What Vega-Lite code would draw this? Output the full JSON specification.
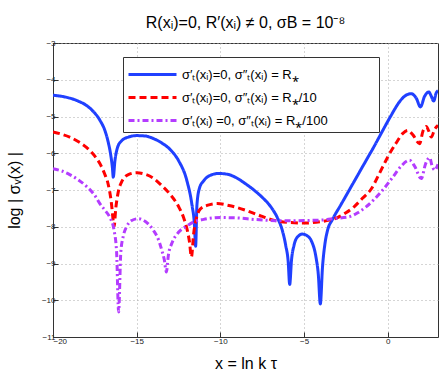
{
  "$schema": "https://vega.github.io/schema/vega-lite/v6.json",
  "width": 385,
  "height": 294,
  "autosize": "none",
  "padding": {"left": 53, "top": 43, "right": 5, "bottom": 34},
  "background": "white",
  "config": {
    "font": "Liberation Sans",
    "view": {"stroke": "#333", "strokeWidth": 1},
    "axis": {"labelFont": "Liberation Sans", "titleFont": "Liberation Sans"}
  },
  "title": {
    "text": "R(xᵢ)=0,  R′(xᵢ) ≠ 0, σB = 10⁻⁸",
    "font": "Liberation Sans",
    "fontSize": 16,
    "fontWeight": "normal",
    "color": "#000",
    "anchor": "middle",
    "offset": 8
  },
  "data": {
    "values": [
      {"s": "b", "x": -20, "y": -4.42}, {"s": "b", "x": -19.5, "y": -4.45}, {"s": "b", "x": -19, "y": -4.5}, {"s": "b", "x": -18.5, "y": -4.58}, {"s": "b", "x": -18, "y": -4.7}, {"s": "b", "x": -17.6, "y": -4.86}, {"s": "b", "x": -17.2, "y": -5.1}, {"s": "b", "x": -16.9, "y": -5.38}, {"s": "b", "x": -16.7, "y": -5.7}, {"s": "b", "x": -16.55, "y": -6.05}, {"s": "b", "x": -16.45, "y": -6.4}, {"s": "b", "x": -16.4, "y": -6.65}, {"s": "b", "x": -16.3, "y": -6.2}, {"s": "b", "x": -16.15, "y": -5.85}, {"s": "b", "x": -15.9, "y": -5.66}, {"s": "b", "x": -15.5, "y": -5.56}, {"s": "b", "x": -15, "y": -5.52}, {"s": "b", "x": -14.5, "y": -5.53}, {"s": "b", "x": -14, "y": -5.6}, {"s": "b", "x": -13.5, "y": -5.72}, {"s": "b", "x": -13, "y": -5.9}, {"s": "b", "x": -12.5, "y": -6.2}, {"s": "b", "x": -12, "y": -6.75}, {"s": "b", "x": -11.7, "y": -7.4}, {"s": "b", "x": -11.55, "y": -7.95}, {"s": "b", "x": -11.48, "y": -8.53}, {"s": "b", "x": -11.4, "y": -7.4}, {"s": "b", "x": -11.25, "y": -6.95}, {"s": "b", "x": -11, "y": -6.75}, {"s": "b", "x": -10.6, "y": -6.6}, {"s": "b", "x": -10.1, "y": -6.55}, {"s": "b", "x": -9.5, "y": -6.58}, {"s": "b", "x": -9, "y": -6.68}, {"s": "b", "x": -8.5, "y": -6.83}, {"s": "b", "x": -8, "y": -7.0}, {"s": "b", "x": -7.5, "y": -7.2}, {"s": "b", "x": -7, "y": -7.45}, {"s": "b", "x": -6.6, "y": -7.75}, {"s": "b", "x": -6.3, "y": -8.1}, {"s": "b", "x": -6.1, "y": -8.5}, {"s": "b", "x": -5.95, "y": -8.95}, {"s": "b", "x": -5.86, "y": -9.57}, {"s": "b", "x": -5.75, "y": -8.9}, {"s": "b", "x": -5.6, "y": -8.5}, {"s": "b", "x": -5.4, "y": -8.28}, {"s": "b", "x": -5.1, "y": -8.2}, {"s": "b", "x": -4.8, "y": -8.25}, {"s": "b", "x": -4.55, "y": -8.4}, {"s": "b", "x": -4.3, "y": -8.8}, {"s": "b", "x": -4.15, "y": -9.3}, {"s": "b", "x": -4.03, "y": -10.1}, {"s": "b", "x": -3.9, "y": -9.1}, {"s": "b", "x": -3.75, "y": -8.45}, {"s": "b", "x": -3.6, "y": -8.1}, {"s": "b", "x": -3.3, "y": -7.8}, {"s": "b", "x": -2.8, "y": -7.4}, {"s": "b", "x": -2.3, "y": -7.0}, {"s": "b", "x": -1.8, "y": -6.6}, {"s": "b", "x": -1.3, "y": -6.2}, {"s": "b", "x": -0.8, "y": -5.8}, {"s": "b", "x": -0.3, "y": -5.38}, {"s": "b", "x": 0.2, "y": -4.97}, {"s": "b", "x": 0.7, "y": -4.6}, {"s": "b", "x": 1.0, "y": -4.45}, {"s": "b", "x": 1.4, "y": -4.38}, {"s": "b", "x": 1.7, "y": -4.5}, {"s": "b", "x": 1.95, "y": -4.74}, {"s": "b", "x": 2.2, "y": -4.45}, {"s": "b", "x": 2.45, "y": -4.33}, {"s": "b", "x": 2.6, "y": -4.45}, {"s": "b", "x": 2.74, "y": -4.58}, {"s": "b", "x": 2.9, "y": -4.35}, {"s": "b", "x": 3.0, "y": -4.3},

      {"s": "r", "x": -20, "y": -5.42}, {"s": "r", "x": -19.5, "y": -5.48}, {"s": "r", "x": -19, "y": -5.56}, {"s": "r", "x": -18.5, "y": -5.68}, {"s": "r", "x": -18, "y": -5.84}, {"s": "r", "x": -17.5, "y": -6.08}, {"s": "r", "x": -17.2, "y": -6.28}, {"s": "r", "x": -16.9, "y": -6.58}, {"s": "r", "x": -16.7, "y": -6.85}, {"s": "r", "x": -16.5, "y": -7.4}, {"s": "r", "x": -16.4, "y": -7.85}, {"s": "r", "x": -16.35, "y": -8.0}, {"s": "r", "x": -16.25, "y": -7.5}, {"s": "r", "x": -16.1, "y": -7.05}, {"s": "r", "x": -15.9, "y": -6.78}, {"s": "r", "x": -15.5, "y": -6.58}, {"s": "r", "x": -15, "y": -6.53}, {"s": "r", "x": -14.5, "y": -6.57}, {"s": "r", "x": -14, "y": -6.68}, {"s": "r", "x": -13.5, "y": -6.88}, {"s": "r", "x": -13, "y": -7.12}, {"s": "r", "x": -12.5, "y": -7.45}, {"s": "r", "x": -12.2, "y": -7.75}, {"s": "r", "x": -12, "y": -8.05}, {"s": "r", "x": -11.85, "y": -8.4}, {"s": "r", "x": -11.73, "y": -8.82}, {"s": "r", "x": -11.6, "y": -8.2}, {"s": "r", "x": -11.45, "y": -7.8}, {"s": "r", "x": -11.2, "y": -7.52}, {"s": "r", "x": -10.8, "y": -7.42}, {"s": "r", "x": -10.2, "y": -7.37}, {"s": "r", "x": -9.5, "y": -7.42}, {"s": "r", "x": -8.5, "y": -7.55}, {"s": "r", "x": -7.5, "y": -7.72}, {"s": "r", "x": -7, "y": -7.8}, {"s": "r", "x": -6, "y": -7.88}, {"s": "r", "x": -5, "y": -7.9}, {"s": "r", "x": -4, "y": -7.86}, {"s": "r", "x": -3.5, "y": -7.82}, {"s": "r", "x": -3, "y": -7.75}, {"s": "r", "x": -2.5, "y": -7.62}, {"s": "r", "x": -2, "y": -7.45}, {"s": "r", "x": -1.5, "y": -7.22}, {"s": "r", "x": -1, "y": -6.98}, {"s": "r", "x": -0.5, "y": -6.55}, {"s": "r", "x": 0, "y": -6.1}, {"s": "r", "x": 0.5, "y": -5.72}, {"s": "r", "x": 0.9, "y": -5.46}, {"s": "r", "x": 1.2, "y": -5.38}, {"s": "r", "x": 1.5, "y": -5.5}, {"s": "r", "x": 1.9, "y": -5.74}, {"s": "r", "x": 2.1, "y": -5.4}, {"s": "r", "x": 2.3, "y": -5.27}, {"s": "r", "x": 2.45, "y": -5.4}, {"s": "r", "x": 2.6, "y": -5.56}, {"s": "r", "x": 2.8, "y": -5.35}, {"s": "r", "x": 3.0, "y": -5.24},

      {"s": "m", "x": -20, "y": -6.42}, {"s": "m", "x": -19.5, "y": -6.48}, {"s": "m", "x": -19, "y": -6.58}, {"s": "m", "x": -18.5, "y": -6.72}, {"s": "m", "x": -18, "y": -6.9}, {"s": "m", "x": -17.5, "y": -7.15}, {"s": "m", "x": -17.2, "y": -7.37}, {"s": "m", "x": -16.9, "y": -7.55}, {"s": "m", "x": -16.6, "y": -7.75}, {"s": "m", "x": -16.35, "y": -8.1}, {"s": "m", "x": -16.2, "y": -8.7}, {"s": "m", "x": -16.08, "y": -10.32}, {"s": "m", "x": -15.95, "y": -8.7}, {"s": "m", "x": -15.8, "y": -8.25}, {"s": "m", "x": -15.6, "y": -8.0}, {"s": "m", "x": -15.3, "y": -7.83}, {"s": "m", "x": -14.9, "y": -7.78}, {"s": "m", "x": -14.5, "y": -7.85}, {"s": "m", "x": -14, "y": -8.1}, {"s": "m", "x": -13.7, "y": -8.35}, {"s": "m", "x": -13.5, "y": -8.64}, {"s": "m", "x": -13.35, "y": -8.9}, {"s": "m", "x": -13.23, "y": -9.23}, {"s": "m", "x": -13.1, "y": -8.75}, {"s": "m", "x": -12.9, "y": -8.45}, {"s": "m", "x": -12.5, "y": -8.15}, {"s": "m", "x": -12, "y": -7.98}, {"s": "m", "x": -11.6, "y": -7.87}, {"s": "m", "x": -11, "y": -7.8}, {"s": "m", "x": -10, "y": -7.75}, {"s": "m", "x": -9, "y": -7.76}, {"s": "m", "x": -8, "y": -7.8}, {"s": "m", "x": -7, "y": -7.83}, {"s": "m", "x": -6, "y": -7.84}, {"s": "m", "x": -5, "y": -7.83}, {"s": "m", "x": -4, "y": -7.82}, {"s": "m", "x": -3.3, "y": -7.78}, {"s": "m", "x": -2.3, "y": -7.73}, {"s": "m", "x": -1.8, "y": -7.62}, {"s": "m", "x": -1.3, "y": -7.46}, {"s": "m", "x": -0.8, "y": -7.25}, {"s": "m", "x": -0.3, "y": -7.0}, {"s": "m", "x": 0.3, "y": -6.65}, {"s": "m", "x": 0.8, "y": -6.35}, {"s": "m", "x": 1.3, "y": -6.19}, {"s": "m", "x": 1.6, "y": -6.35}, {"s": "m", "x": 2.0, "y": -6.69}, {"s": "m", "x": 2.25, "y": -6.3}, {"s": "m", "x": 2.5, "y": -6.12}, {"s": "m", "x": 2.65, "y": -6.35}, {"s": "m", "x": 2.8, "y": -6.46}, {"s": "m", "x": 3.0, "y": -6.3}
    ]
  },
  "mark": {"type": "line", "strokeWidth": 3, "clip": true, "interpolate": "monotone"},
  "encoding": {
    "x": {
      "field": "x", "type": "quantitative",
      "scale": {"domain": [-20, 3], "nice": false, "zero": false},
      "axis": {
        "values": [-20, -15, -10, -5, 0],
        "title": "x = ln k τ",
        "titleFontSize": 16, "titleFontWeight": "normal", "titleColor": "#000", "titlePadding": 10,
        "labelFontSize": 8, "labelColor": "#222", "labelPadding": 5,
        "tickSize": -5, "tickColor": "#333",
        "domainColor": "#333",
        "grid": true, "gridDash": [1, 3], "gridColor": "#aaa"
      }
    },
    "y": {
      "field": "y", "type": "quantitative",
      "scale": {"domain": [-11, -3], "nice": false, "zero": false},
      "axis": {
        "values": [-11, -10, -9, -8, -7, -6, -5, -4, -3],
        "title": "log | σᵥ(x) |",
        "titleFontSize": 16, "titleFontWeight": "normal", "titleColor": "#000", "titlePadding": 19,
        "labelFontSize": 8, "labelColor": "#222", "labelPadding": 3,
        "tickSize": -5, "tickColor": "#333",
        "domainColor": "#333",
        "grid": true, "gridDash": [1, 3], "gridColor": "#aaa"
      }
    },
    "color": {
      "field": "s", "type": "nominal",
      "scale": {"domain": ["b", "r", "m"], "range": ["#2040ff", "#ff0000", "#b43cff"]},
      "legend": {
        "title": null,
        "orient": "none", "legendX": 70, "legendY": 14,
        "labelExpr": "datum.value == 'b' ? 'σ′ₜ(xᵢ)=0,   σ″ₜ(xᵢ) = R⁎' : datum.value == 'r' ? 'σ′ₜ(xᵢ)=0,   σ″ₜ(xᵢ) = R⁎/10' : 'σ′ₜ(xᵢ) =0,  σ″ₜ(xᵢ) = R⁎/100\u00a0\u00a0\u00a0\u00a0\u00a0\u00a0\u00a0\u00a0\u00a0\u00a0\u00a0\u00a0\u200b'",
        "labelFont": "Liberation Sans", "labelFontSize": 13, "labelColor": "#000", "labelLimit": 400,
        "symbolType": "M-1,0H3", "symbolSize": 576, "symbolStrokeWidth": 3, "symbolFillColor": "transparent",
        "strokeColor": "#333", "fillColor": "white", "padding": 4, "rowPadding": 2,
        "labelOffset": 28
      }
    },
    "strokeDash": {
      "field": "s", "type": "nominal",
      "scale": {"domain": ["b", "r", "m"], "range": [[1, 0], [7, 4], [6, 3, 2, 3]]},
      "legend": {
        "title": null,
        "orient": "none", "legendX": 70, "legendY": 14,
        "labelExpr": "datum.value == 'b' ? 'σ′ₜ(xᵢ)=0,   σ″ₜ(xᵢ) = R⁎' : datum.value == 'r' ? 'σ′ₜ(xᵢ)=0,   σ″ₜ(xᵢ) = R⁎/10' : 'σ′ₜ(xᵢ) =0,  σ″ₜ(xᵢ) = R⁎/100\u00a0\u00a0\u00a0\u00a0\u00a0\u00a0\u00a0\u00a0\u00a0\u00a0\u00a0\u00a0\u200b'",
        "labelFont": "Liberation Sans", "labelFontSize": 13, "labelColor": "#000", "labelLimit": 400,
        "symbolType": "M-1,0H3", "symbolSize": 576, "symbolStrokeWidth": 3, "symbolFillColor": "transparent",
        "strokeColor": "#333", "fillColor": "white", "padding": 4, "rowPadding": 2,
        "labelOffset": 28
      }
    }
  }
}
